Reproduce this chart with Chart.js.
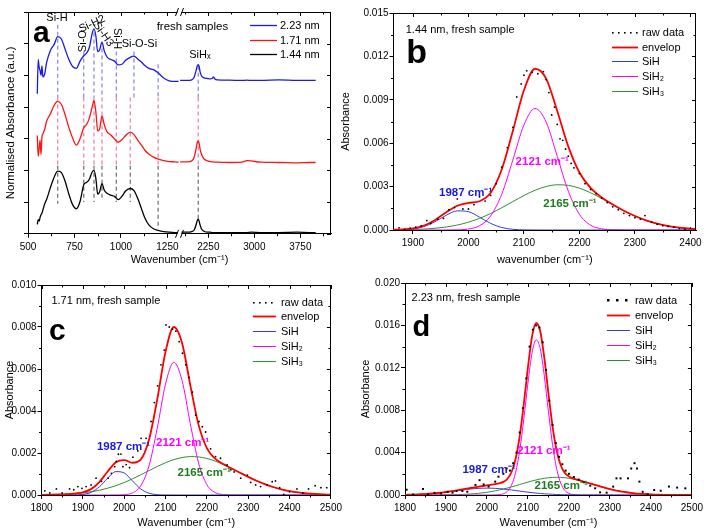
<!DOCTYPE html>
<html lang="en">
<head>
<meta charset="utf-8">
<title>FTIR SiHx</title>
<script src="https://cdn.jsdelivr.net/npm/chart.js@4.4.1/dist/chart.umd.min.js"></script>
<style>
	html, body { margin: 0; padding: 0; background: #fff; }
	#figura { position: relative; width: 706px; height: 531px; overflow: hidden; }
	#figura canvas { position: absolute; }
</style>
</head>
<body>
<div id="figura">
	<canvas id="graficoA" width="345" height="268" style="left:0;top:0"></canvas>
	<canvas id="graficoB" width="374" height="268" style="left:332px;top:0"></canvas>
	<canvas id="graficoC" width="345" height="263" style="left:0;top:268px"></canvas>
	<canvas id="graficoD" width="361" height="263" style="left:345px;top:268px"></canvas>
</div>
<script>
// ---- painel a: espectros normalizados (eixo quebrado) ----
var aEsqX = [550, 555, 560, 565, 570, 575, 580, 590, 600, 620, 640, 660, 680, 700, 720, 740, 760, 780, 800, 815, 830, 845, 855, 865, 875, 885, 898, 910, 925, 945, 965, 985, 1005, 1025, 1050, 1070, 1090, 1110, 1130, 1150, 1175, 1200, 1230, 1260, 1290, 1310];
var aEsq144 = [0.30, 0.45, 0.40, 0.52, 0.60, 0.65, 0.75, 0.95, 1.08, 1.45, 1.78, 1.98, 1.93, 1.65, 1.25, 0.92, 0.79, 1.02, 1.55, 1.62, 1.72, 1.95, 2.00, 1.75, 1.25, 1.32, 1.58, 1.38, 1.28, 1.22, 1.18, 1.08, 1.18, 1.35, 1.43, 1.36, 1.12, 0.80, 0.48, 0.28, 0.16, 0.11, 0.07, 0.05, 0.04, 0.03];
var aEsq171 = [3.10, 2.45, 2.70, 2.95, 2.50, 3.05, 3.15, 3.30, 3.55, 3.78, 4.05, 4.18, 4.08, 3.75, 3.35, 3.02, 2.80, 3.00, 3.35, 3.45, 3.65, 4.00, 4.20, 3.85, 3.25, 3.30, 3.72, 3.45, 3.22, 3.12, 3.00, 2.89, 2.97, 3.10, 3.21, 3.13, 2.96, 2.80, 2.63, 2.52, 2.42, 2.36, 2.31, 2.28, 2.27, 2.26];
var aEsq223 = [4.42, 5.50, 5.25, 5.15, 5.00, 5.30, 4.95, 5.05, 5.40, 5.78, 5.97, 6.22, 6.14, 5.82, 5.50, 5.28, 5.22, 5.45, 5.62, 5.70, 5.88, 6.32, 6.47, 6.25, 5.75, 5.80, 6.05, 5.78, 5.58, 5.50, 5.45, 5.33, 5.35, 5.48, 5.57, 5.61, 5.52, 5.42, 5.30, 5.22, 5.18, 5.08, 4.92, 4.83, 4.81, 4.81];
var aDirX = [1790, 1900, 1980, 2020, 2050, 2070, 2085, 2100, 2115, 2140, 2180, 2240, 2280, 2310, 2335, 2360, 2400, 2600, 2800, 2880, 2950, 3100, 3400, 3700, 3900, 4000];
var aDir144 = [0.05, 0.05, 0.07, 0.12, 0.28, 0.42, 0.46, 0.40, 0.28, 0.15, 0.08, 0.05, 0.05, 0.04, 0.04, 0.04, 0.04, 0.04, 0.04, 0.04, 0.05, 0.04, 0.04, 0.05, 0.04, 0.04];
var aDir171 = [2.27, 2.27, 2.30, 2.42, 2.68, 2.88, 2.93, 2.85, 2.68, 2.50, 2.36, 2.30, 2.28, 2.27, 2.27, 2.26, 2.26, 2.25, 2.26, 2.31, 2.30, 2.26, 2.25, 2.24, 2.25, 2.25];
var aDir223 = [4.84, 4.84, 4.86, 4.95, 5.15, 5.30, 5.34, 5.28, 5.12, 4.98, 4.92, 4.90, 4.89, 4.90, 4.95, 4.88, 4.86, 4.85, 4.84, 4.85, 4.84, 4.84, 4.86, 4.84, 4.84, 4.84];
var aTicksEsq = [500, 750, 1000, 1250];
var aTicksDir = [2250, 3000, 3750];
var aTicksY = [0, 1, 2, 3, 4, 5, 6, 7];
// linhas tracejadas das bandas
var picosAzul = [660, 800, 855, 898, 975, 1070, 1200];
var picosVermelhoPreto = [660, 800, 855, 898, 975, 1050, 1200];
var topoPicos = [6.6, 5.75, 6.35, 5.85, 5.75, 5.75, 5.35];
var basePicos = [0.95, 1.0, 1.0, 1.05, 1.0, 1.0, 0.15];
var picoSiHx = [2085];
var topoSiHx = [5.3];
var baseSiHx = [0.38];
var limiteAzul = 4.3;
var limiteVermelho = 2.15;

// ---- painel b: 1.44 nm ----
var bX = [1860, 1880, 1900, 1920, 1940, 1960, 1980, 2000, 2020, 2040, 2060, 2080, 2100, 2120, 2140, 2160, 2180, 2200, 2220, 2240, 2260, 2280, 2300, 2320, 2340, 2360, 2380, 2400, 2420];
var bEnvelope = [0.00001, 0.000033, 0.000107, 0.000304, 0.000695, 0.001229, 0.001679, 0.001873, 0.001986, 0.002571, 0.004181, 0.006845, 0.009659, 0.011148, 0.010466, 0.00822, 0.00576, 0.003972, 0.00291, 0.002257, 0.001763, 0.001335, 0.000965, 0.000664, 0.000433, 0.000269, 0.000158, 0.000089, 0.000047];
var bSiH = [0.000003, 0.000016, 0.000073, 0.000239, 0.000576, 0.001019, 0.001324, 0.001265, 0.000887, 0.000457, 0.000173, 0.000048, 0.00001, 0.000001, 0, 0, 0, 0, 0, 0, 0, 0, 0, 0, 0, 0, 0, 0, 0];
var bSiH2 = [0, 0, 0, 0, 0, 0.000002, 0.000012, 0.000068, 0.000294, 0.000972, 0.002472, 0.004834, 0.007266, 0.0084, 0.00746, 0.005095, 0.002675, 0.00108, 0.000335, 0.00008, 0.000015, 0.000002, 0, 0, 0, 0, 0, 0, 0];
var bSiH3 = [0.000008, 0.000017, 0.000034, 0.000065, 0.000119, 0.000208, 0.000343, 0.00054, 0.000805, 0.001142, 0.001536, 0.001963, 0.002383, 0.002747, 0.003006, 0.003125, 0.003085, 0.002892, 0.002575, 0.002177, 0.001748, 0.001333, 0.000965, 0.000664, 0.000433, 0.000269, 0.000158, 0.000089, 0.000047];
var bBrutoX = [1875, 1885, 1895, 1905, 1915, 1925, 1932, 1945, 1955, 1965, 1975, 1980, 1990, 2000, 2010, 2020, 2030, 2040, 2050, 2060, 2070, 2080, 2087, 2095, 2100, 2105, 2115, 2125, 2135, 2140, 2145, 2150, 2155, 2160, 2165, 2170, 2175, 2180, 2185, 2190, 2200, 2210, 2220, 2230, 2240, 2250, 2260, 2270, 2280, 2290, 2300, 2310, 2318, 2330, 2340, 2350, 2360, 2370, 2380, 2390, 2400, 2410, 2415];
var bBrutoY = [0.00015, 0.00005, 0.00012, 0.0002, 0.00028, 0.00065, 0.00045, 0.00075, 0.0008, 0.0014, 0.00155, 0.00215, 0.00145, 0.00145, 0.00175, 0.0023, 0.002, 0.0024, 0.0032, 0.00435, 0.0057, 0.0071, 0.0092, 0.0101, 0.0107, 0.011, 0.0109, 0.0108, 0.01095, 0.0104, 0.0095, 0.00795, 0.0085, 0.0073, 0.0063, 0.0062, 0.0056, 0.0051, 0.0046, 0.0043, 0.0039, 0.0032, 0.0028, 0.0025, 0.0022, 0.0019, 0.0016, 0.0014, 0.00115, 0.001, 0.00085, 0.00075, 0.001, 0.00055, 0.0004, 0.0003, 0.00025, 0.0002, 0.0001, 0.00005, 0.00012, 0.0002, 0.0001];
var bTicksX = [1900, 2000, 2100, 2200, 2300, 2400];
var bTicksY = [0, 0.003, 0.006, 0.009, 0.012, 0.015];

// ---- painel c: 1.71 nm ----
var cX = [1800, 1820, 1840, 1860, 1880, 1900, 1920, 1940, 1960, 1980, 2000, 2020, 2040, 2060, 2080, 2100, 2120, 2140, 2160, 2180, 2200, 2220, 2240, 2260, 2280, 2300, 2320, 2340, 2360, 2380, 2400, 2420, 2440, 2460, 2480, 2500];
var cEnvelope = [0.0000074, 0.0000134, 0.0000233, 0.0000396, 0.0000682, 0.0001288, 0.0002805, 0.0006135, 0.0011209, 0.0015598, 0.00166, 0.001536, 0.0016825, 0.0026289, 0.0045564, 0.006818, 0.008, 0.007237, 0.005226, 0.003339, 0.0022344, 0.0017307, 0.00147, 0.0012627, 0.0010598, 0.0008618, 0.0006782, 0.0005163, 0.0003803, 0.000271, 0.0001869, 0.0001246, 0.0000804, 0.0000502, 0.0000303, 0.0000178];
var cSiH = [0, 0, 0, 0.0000004, 0.0000043, 0.0000283, 0.0001273, 0.0003876, 0.0007986, 0.001113, 0.00105, 0.00067, 0.000289, 0.0000845, 0.0000167, 0.0000022, 0.0000002, 0, 0, 0, 0, 0, 0, 0, 0, 0, 0, 0, 0, 0, 0, 0, 0, 0, 0, 0];
var cSiH2 = [0, 0, 0, 0, 0, 0, 0, 0, 0, 0.0000019, 0.000016, 0.0000983, 0.000434, 0.001384, 0.003182, 0.005279, 0.006317, 0.005454, 0.003397, 0.001526, 0.0004948, 0.0001157, 0.0000195, 0.0000024, 0.0000002, 0, 0, 0, 0, 0, 0, 0, 0, 0, 0, 0];
var cSiH3 = [0.0000074, 0.0000134, 0.0000233, 0.0000392, 0.0000639, 0.0001005, 0.0001532, 0.0002259, 0.0003223, 0.0004449, 0.000594, 0.0007677, 0.0009595, 0.0011604, 0.0013577, 0.0015368, 0.001683, 0.001783, 0.001829, 0.001813, 0.0017396, 0.001615, 0.0014505, 0.0012603, 0.0010596, 0.0008618, 0.0006782, 0.0005163, 0.0003803, 0.000271, 0.0001869, 0.0001246, 0.0000804, 0.0000502, 0.0000303, 0.0000178];
var cBrutoX = [1808, 1820, 1836, 1850, 1868, 1878, 1888, 1898, 1908, 1920, 1932, 1945, 1961, 1969, 1977, 1981, 1986, 1992, 1997, 2005, 2013, 2021, 2033, 2041, 2053, 2065, 2073, 2081, 2089, 2097, 2101, 2109, 2117, 2125, 2133, 2141, 2149, 2157, 2165, 2173, 2181, 2189, 2197, 2209, 2221, 2233, 2249, 2258, 2266, 2282, 2298, 2306, 2318, 2330, 2346, 2358, 2366, 2376, 2386, 2400, 2418, 2432, 2446, 2462, 2476, 2490];
var cBrutoY = [0.0002, 0.0001, 0.00029, 0.0001, 0.00029, 0.00025, 0.0004, 0.00032, 0.0004, 0.00048, 0.0008, 0.00065, 0.0008, 0.00103, 0.00135, 0.0016, 0.00194, 0.00195, 0.00135, 0.00145, 0.0013, 0.0018, 0.0021, 0.0027, 0.0027, 0.0035, 0.0044, 0.0052, 0.0062, 0.0069, 0.0081, 0.008, 0.0079, 0.0078, 0.0073, 0.00675, 0.0062, 0.0056, 0.0049, 0.0038, 0.0035, 0.00325, 0.003, 0.0022, 0.00183, 0.00175, 0.00143, 0.0012, 0.0011, 0.0008, 0.00095, 0.0006, 0.00048, 0.0004, 0.00048, 0.00063, 0.00067, 0.00035, 0.00003, 0.00015, 0.00029, 0.0001, 0.00029, 0.00044, 0.00035, 0.00035];
var cTicksX = [1800, 1900, 2000, 2100, 2200, 2300, 2400, 2500];
var cTicksY = [0, 0.002, 0.004, 0.006, 0.008, 0.010];

// ---- painel d: 2.23 nm ----
var dX = [1800, 1810, 1820, 1830, 1840, 1850, 1860, 1870, 1880, 1890, 1900, 1910, 1920, 1930, 1940, 1950, 1960, 1970, 1980, 1990, 2000, 2010, 2020, 2030, 2040, 2050, 2060, 2070, 2080, 2090, 2100, 2110, 2120, 2130, 2140, 2150, 2160, 2170, 2180, 2190, 2200, 2210, 2220, 2230, 2240, 2250, 2260, 2270, 2280, 2290, 2300, 2310, 2320, 2330, 2340, 2350, 2360, 2370, 2380, 2390, 2400, 2410, 2420, 2430, 2440, 2450, 2460, 2470, 2480, 2490, 2500];
var dEnvelope = [0.000019, 0.000026, 0.000037, 0.000051, 0.000069, 0.00009, 0.000117, 0.00015, 0.000188, 0.000233, 0.000282, 0.000337, 0.000398, 0.000461, 0.000527, 0.000593, 0.000661, 0.000726, 0.000789, 0.00085, 0.000908, 0.000964, 0.001026, 0.001103, 0.001239, 0.001531, 0.002172, 0.003435, 0.005585, 0.008617, 0.012057, 0.014942, 0.016241, 0.01545, 0.012908, 0.009581, 0.006483, 0.0042, 0.002811, 0.002086, 0.00174, 0.001561, 0.00144, 0.001332, 0.001221, 0.001108, 0.000992, 0.000877, 0.000765, 0.000659, 0.000561, 0.000471, 0.000391, 0.00032, 0.000258, 0.000206, 0.000162, 0.000126, 0.000097, 0.000073, 0.000055, 0.00004, 0.00003, 0.000021, 0.000015, 0.000011, 0.000007, 0.000005, 0.000003, 0.000002, 0.000002];
var dSiH = [0.000019, 0.000026, 0.000036, 0.00005, 0.000067, 0.000088, 0.000114, 0.000145, 0.000181, 0.000222, 0.000267, 0.000316, 0.000368, 0.00042, 0.000472, 0.00052, 0.000564, 0.0006, 0.000627, 0.000644, 0.00065, 0.000644, 0.000627, 0.0006, 0.000564, 0.00052, 0.000472, 0.00042, 0.000368, 0.000316, 0.000267, 0.000222, 0.000181, 0.000145, 0.000114, 0.000088, 0.000067, 0.00005, 0.000036, 0.000026, 0.000019, 0.000013, 0.000009, 0.000006, 0.000004, 0.000003, 0.000002, 0.000001, 0, 0, 0, 0, 0, 0, 0, 0, 0, 0, 0, 0, 0, 0, 0, 0, 0, 0, 0, 0, 0, 0, 0];
var dSiH2 = [0, 0, 0, 0, 0, 0, 0, 0, 0, 0, 0, 0, 0, 0, 0, 0, 0, 0, 0, 0, 0, 0, 0.000008, 0.000032, 0.000114, 0.000352, 0.000935, 0.002139, 0.004227, 0.007196, 0.010573, 0.013396, 0.014639, 0.013799, 0.011218, 0.007866, 0.004757, 0.00248, 0.001116, 0.000433, 0.000145, 0.000042, 0.00001, 0.000002, 0, 0, 0, 0, 0, 0, 0, 0, 0, 0, 0, 0, 0, 0, 0, 0, 0, 0, 0, 0, 0, 0, 0, 0, 0, 0, 0];
var dSiH3 = [0, 0.0000004, 0.0000006, 0.000001, 0.0000015, 0.0000023, 0.0000034, 0.000005, 0.0000073, 0.0000106, 0.0000151, 0.0000212, 0.0000295, 0.0000405, 0.0000549, 0.0000734, 0.0000969, 0.000126, 0.000162, 0.000206, 0.000258, 0.00032, 0.000391, 0.000471, 0.000561, 0.000659, 0.000765, 0.000876, 0.00099, 0.001105, 0.001217, 0.001324, 0.001421, 0.001506, 0.001576, 0.001627, 0.001659, 0.00167, 0.001659, 0.001627, 0.001576, 0.001506, 0.001421, 0.001324, 0.001217, 0.001105, 0.00099, 0.000876, 0.000765, 0.000659, 0.000561, 0.000471, 0.000391, 0.00032, 0.000258, 0.000206, 0.000162, 0.000126, 0.000097, 0.000073, 0.000055, 0.00004, 0.00003, 0.000021, 0.000015, 0.000011, 0.000007, 0.000005, 0.000003, 0.000002, 0.000002];
var dBrutoX = [1804, 1820, 1844, 1856, 1872, 1888, 1904, 1916, 1926, 1940, 1952, 1972, 1982, 1992, 2004, 2020, 2028, 2040, 2048, 2056, 2064, 2072, 2080, 2088, 2096, 2104, 2112, 2120, 2128, 2136, 2144, 2152, 2160, 2168, 2176, 2184, 2192, 2200, 2212, 2224, 2236, 2252, 2264, 2276, 2292, 2308, 2316, 2326, 2344, 2352, 2360, 2366, 2372, 2380, 2392, 2408, 2424, 2444, 2464, 2484];
var dBrutoY = [0.0005, 0.00005, 0.00057, 0.00005, 0.0002, 0.00016, 0.0003, 0.00022, 0.00038, 0.00038, 0.00031, 0.00095, 0.0014, 0.001, 0.0008, 0.00126, 0.00173, 0.002, 0.0025, 0.0023, 0.003, 0.004, 0.0059, 0.0082, 0.011, 0.014, 0.0156, 0.016, 0.0158, 0.0144, 0.0118, 0.0089, 0.0066, 0.0049, 0.0036, 0.0029, 0.0023, 0.002, 0.0017, 0.00145, 0.0012, 0.00088, 0.00063, 0.00025, 0.00022, 0.00079, 0.00157, 0.00157, 0.00157, 0.0025, 0.003, 0.0025, 0.00126, 0.0003, 0.00006, 0.00047, 0.0004, 0.0008, 0.0007, 0.00063];
var dTicksX = [1800, 1900, 2000, 2100, 2200, 2300, 2400, 2500];
var dTicksY = [0, 0.004, 0.008, 0.012, 0.016, 0.020];

var FONTE = '"Liberation Sans", Arial, Helvetica, sans-serif';
Chart.defaults.font.family = FONTE;
Chart.defaults.font.size = 10;
Chart.defaults.color = '#000';

var COR_ENV = '#ff0000', COR_SIH = '#3c3cd2', COR_SIH2 = '#ff00ff', COR_SIH3 = '#2f8f2f';

function pontos(xs, ys) {
	return xs.map(function(x, i) { return {x: x, y: ys[i]}; });
}

function curva(rotulo, xs, ys, cor, largura, eixo) {
	return {
		label: rotulo,
		data: pontos(xs, ys),
		borderColor: cor,
		backgroundColor: cor,
		borderWidth: largura,
		pointRadius: 0,
		cubicInterpolationMode: 'monotone',
		fill: false,
		xAxisID: eixo || 'x'
	};
}

function brutos(xs, ys, estilo, raio) {
	return {
		label: 'raw data',
		data: pontos(xs, ys),
		showLine: false,
		pointStyle: estilo,
		pointRadius: raio,
		pointBorderWidth: 0,
		pointBackgroundColor: '#000',
		borderColor: '#000',
		xAxisID: 'x'
	};
}

function tracejado(posicoes, topos, bases, cor, eixo) {
	var dados = [];
	posicoes.forEach(function(x, i) {
		dados.push({x: x, y: topos[i]}, {x: x, y: bases[i]}, {x: x, y: null});
	});
	return {
		data: dados,
		borderColor: cor,
		borderWidth: 1.1,
		borderDash: [4, 3],
		pointRadius: 0,
		tension: 0,
		spanGaps: false,
		xAxisID: eixo
	};
}

function constante(lista, valor) {
	return lista.map(function() { return valor; });
}

function eixoX(cfg) {
	return {
		type: 'linear',
		position: 'bottom',
		min: cfg.min,
		max: cfg.max,
		stack: cfg.pilha,
		stackWeight: 1,
		afterBuildTicks: function(escala) {
			escala.ticks = cfg.ticks.map(function(v) { return {value: v}; });
		},
		afterFit: function(escala) { escala.height = cfg.altura; },
		ticks: { font: {size: 10}, color: '#000', padding: 3, maxRotation: 0, autoSkip: false,
			callback: function(v) { return String(v); } },
		grid: { drawOnChartArea: false, drawTicks: true, tickLength: 4, color: '#000', lineWidth: 1 },
		border: { display: true, color: '#000', width: 1 },
		title: cfg.titulo ? { display: true, text: cfg.titulo, color: '#000', font: {size: 11}, padding: {top: 0, bottom: 1} } : { display: false }
	};
}

function eixoY(cfg) {
	return {
		type: 'linear',
		position: 'left',
		min: cfg.min,
		max: cfg.max,
		afterBuildTicks: function(escala) {
			escala.ticks = cfg.ticks.map(function(v) { return {value: v}; });
		},
		afterFit: function(escala) { escala.width = cfg.largura; },
		ticks: { display: cfg.rotulos !== false, font: {size: 10}, color: '#000', padding: 1,
			callback: function(v) { return v.toFixed(cfg.casas || 0); } },
		grid: { drawOnChartArea: false, drawTicks: true, tickLength: 4, color: '#000', lineWidth: 1 },
		border: { display: true, color: '#000', width: 1 },
		title: { display: true, text: cfg.titulo, color: '#000', font: {size: cfg.tamTitulo || 11}, padding: {top: cfg.padTitulo || 0, bottom: 0} }
	};
}

function marcas(escala, semMenor) {
	var vals = escala.ticks.map(function(t) { return t.value; });
	var lista = [];
	vals.forEach(function(v, i) {
		lista.push({valor: v, maior: true});
		if (!semMenor && i < vals.length - 1) lista.push({valor: (v + vals[i + 1]) / 2, maior: false});
	});
	if (!semMenor && vals.length > 1) {
		var passo = vals[1] - vals[0];
		if (vals[0] - passo / 2 >= escala.min) lista.push({valor: vals[0] - passo / 2, maior: false});
		if (vals[vals.length - 1] + passo / 2 <= escala.max) lista.push({valor: vals[vals.length - 1] + passo / 2, maior: false});
	}
	return lista;
}

// moldura de cima/direita com marcas internas e marcas secundarias
var molduraPlugin = {
	id: 'moldura',
	afterDraw: function(chart, args, opcoes) {
		var ctx = chart.ctx;
		var area = chart.chartArea;
		var idsX = opcoes.eixosX || ['x'];
		var escalaY = chart.scales.y;
		var topo = Math.round(area.top) + 0.5;
		var dir = Math.round(area.right) - 0.5;
		ctx.save();
		ctx.strokeStyle = '#000';
		ctx.lineWidth = 1;
		ctx.beginPath();
		ctx.moveTo(area.left, topo);
		ctx.lineTo(area.right, topo);
		ctx.moveTo(dir, area.top);
		ctx.lineTo(dir, area.bottom);
		idsX.forEach(function(id) {
			var escala = chart.scales[id];
			marcas(escala).forEach(function(m) {
				var px = Math.round(escala.getPixelForValue(m.valor)) + 0.5;
				var tam = m.maior ? 4 : 2.5;
				ctx.moveTo(px, area.top);
				ctx.lineTo(px, area.top + tam);
				if (!m.maior) {
					ctx.moveTo(px, area.bottom);
					ctx.lineTo(px, area.bottom + tam);
				}
			});
		});
		marcas(escalaY, opcoes.semMenorY).forEach(function(m) {
			var py = Math.round(escalaY.getPixelForValue(m.valor)) + 0.5;
			var tam = m.maior ? 4 : 2.5;
			ctx.moveTo(area.right, py);
			ctx.lineTo(area.right - tam, py);
			if (!m.maior) {
				ctx.moveTo(area.left, py);
				ctx.lineTo(area.left - tam, py);
			}
		});
		ctx.stroke();
		if (opcoes.quebra) {
			var xq = chart.scales[idsX[0]].right;
			[area.top, area.bottom].forEach(function(y) {
				ctx.fillStyle = '#fff';
				ctx.fillRect(xq - 2, y - 3, 4, 6);
				ctx.beginPath();
				ctx.moveTo(xq - 4, y + 4);
				ctx.lineTo(xq - 1, y - 4);
				ctx.moveTo(xq + 1, y + 4);
				ctx.lineTo(xq + 4, y - 4);
				ctx.stroke();
			});
		}
		ctx.restore();
	}
};

// legenda desenhada dentro da area do grafico
var legendaPlugin = {
	id: 'legenda',
	afterDraw: function(chart, args, opcoes) {
		if (!opcoes.itens) return;
		var ctx = chart.ctx;
		var area = chart.chartArea;
		ctx.save();
		ctx.font = '11px ' + FONTE;
		ctx.textBaseline = 'middle';
		ctx.textAlign = 'left';
		opcoes.itens.forEach(function(indice, i) {
			var ds = chart.data.datasets[indice];
			var y = Math.round(area.top + opcoes.topo + i * opcoes.passo) + 0.5;
			var x1 = area.right - opcoes.inicio;
			var x2 = area.right - opcoes.fim;
			if (ds.showLine === false) {
				ctx.fillStyle = '#000';
				var t = opcoes.ponto || 1.6;
				for (var x = x1 + 1; x <= x2; x += opcoes.espaco || 6) {
					ctx.fillRect(Math.round(x - t / 2), Math.round(y - t / 2), t, t);
				}
			} else {
				ctx.strokeStyle = ds.borderColor;
				ctx.lineWidth = ds.borderWidth;
				ctx.beginPath();
				ctx.moveTo(x1, y);
				ctx.lineTo(x2, y);
				ctx.stroke();
			}
			ctx.fillStyle = '#000';
			ctx.fillText(ds.label, area.right - opcoes.texto, y);
		});
		ctx.restore();
	}
};

// rotulos e anotacoes em coordenadas de dados
var textosPlugin = {
	id: 'textos',
	afterDraw: function(chart, args, opcoes) {
		var ctx = chart.ctx;
		(opcoes.itens || []).forEach(function(t) {
			var px = chart.scales[t.eixo || 'x'].getPixelForValue(t.x);
			var py = chart.scales.y.getPixelForValue(t.y);
			ctx.save();
			ctx.translate(px, py);
			if (t.rot) ctx.rotate(t.rot * Math.PI / 180);
			ctx.font = (t.negrito ? 'bold ' : '') + (t.tam || 11) + 'px ' + FONTE;
			ctx.fillStyle = t.cor || '#000';
			ctx.textAlign = t.alinh || 'left';
			ctx.textBaseline = t.base || 'alphabetic';
			ctx.fillText(t.texto, 0, 0);
			ctx.restore();
		});
	}
};

var plugins = [molduraPlugin, legendaPlugin, textosPlugin];

function opcoesBase() {
	return {
		responsive: false,
		animation: false,
		events: [],
		plugins: { legend: { display: false }, tooltip: { enabled: false } }
	};
}

// ---------- a ----------
var opA = opcoesBase();
opA.layout = { padding: { top: 12, right: 14, left: 0, bottom: 0 } };
opA.scales = {
	xl: eixoX({min: 500, max: 1315, ticks: aTicksEsq, altura: 20, pilha: 'quebra'}),
	xr: eixoX({min: 1780, max: 4250, ticks: aTicksDir, altura: 20, pilha: 'quebra'}),
	y: eixoY({min: 0, max: 7, ticks: aTicksY, largura: 28, rotulos: false, titulo: 'Normalised Absorbance (a.u.)', padTitulo: 4, tamTitulo: 11.5})
};
opA.plugins.title = { display: true, position: 'bottom', fullSize: false, text: 'Wavenumber (cm⁻¹)', color: '#000',
	font: {size: 11, weight: 'normal'}, padding: {top: 0, bottom: 1} };
opA.plugins.moldura = { eixosX: ['xl', 'xr'], quebra: true, semMenorY: true };
opA.plugins.legenda = { itens: [0, 2, 4], topo: 13, passo: 14.5, inicio: 81, fim: 54, texto: 51 };
opA.plugins.textos = { itens: [
	{texto: 'a', x: 527, y: 6.04, eixo: 'xl', tam: 30, negrito: true},
	{texto: 'Si-H', x: 656, y: 6.71, eixo: 'xl', alinh: 'center'},
	{texto: 'Si-O', x: 797, y: 6.08, eixo: 'xl', alinh: 'center', base: 'middle', rot: -90},
	{texto: 'Si-H2', x: 845, y: 6.62, eixo: 'xl', alinh: 'center', base: 'middle', rot: -25},
	{texto: 'Si-H3', x: 905, y: 6.3, eixo: 'xl', alinh: 'center', base: 'middle', rot: 55},
	{texto: 'Si-H', x: 977, y: 6.16, eixo: 'xl', alinh: 'center', base: 'middle', rot: 90},
	{texto: 'Si-O-Si', x: 1099, y: 6.0, eixo: 'xl', alinh: 'center', base: 'middle'},
	{texto: 'fresh samples', x: 1192, y: 6.42, eixo: 'xl', tam: 11.5},
	{texto: 'SiHₓ', x: 2113, y: 5.55, eixo: 'xr', alinh: 'center'}
] };

var COR_A223 = '#1a1ae0', COR_A171 = '#ff1414', COR_A144 = '#000000';
new Chart(document.getElementById('graficoA'), {
	type: 'line',
	data: { datasets: [
		curva('2.23 nm', aEsqX, aEsq223, COR_A223, 1.3, 'xl'),
		curva('2.23 nm', aDirX, aDir223, COR_A223, 1.3, 'xr'),
		curva('1.71 nm', aEsqX, aEsq171, COR_A171, 1.3, 'xl'),
		curva('1.71 nm', aDirX, aDir171, COR_A171, 1.3, 'xr'),
		curva('1.44 nm', aEsqX, aEsq144, COR_A144, 1.3, 'xl'),
		curva('1.44 nm', aDirX, aDir144, COR_A144, 1.3, 'xr'),
		tracejado(picosAzul, topoPicos, constante(picosAzul, limiteAzul), 'rgba(70,70,255,0.75)', 'xl'),
		tracejado(picosVermelhoPreto, constante(picosVermelhoPreto, limiteAzul), constante(picosVermelhoPreto, limiteVermelho), 'rgba(240,60,120,0.75)', 'xl'),
		tracejado(picosVermelhoPreto, constante(picosVermelhoPreto, limiteVermelho), basePicos, 'rgba(40,40,40,0.75)', 'xl'),
		tracejado(picoSiHx, topoSiHx, constante(picoSiHx, limiteAzul), 'rgba(70,70,255,0.75)', 'xr'),
		tracejado(picoSiHx, constante(picoSiHx, limiteAzul), constante(picoSiHx, limiteVermelho), 'rgba(240,60,120,0.75)', 'xr'),
		tracejado(picoSiHx, constante(picoSiHx, limiteVermelho), baseSiHx, 'rgba(40,40,40,0.75)', 'xr')
	] },
	options: opA,
	plugins: plugins
});

// ---------- b ----------
var opB = opcoesBase();
opB.layout = { padding: { top: 13, right: 10, left: 7, bottom: 0 } };
opB.scales = {
	x: eixoX({min: 1865, max: 2410, ticks: bTicksX, altura: 38, titulo: 'wavenumber (cm⁻¹)'}),
	y: eixoY({min: 0, max: 0.015, ticks: bTicksY, casas: 3, largura: 54.5, titulo: 'Absorbance'})
};
opB.plugins.moldura = {};
opB.plugins.legenda = { itens: [0, 1, 2, 3, 4], topo: 19, passo: 14.7, inicio: 84, fim: 58, texto: 54 };
opB.plugins.textos = { itens: [
	{texto: '1.44 nm, fresh sample', x: 1887, y: 0.01359},
	{texto: 'b', x: 1888, y: 0.01152, tam: 34, negrito: true},
	{texto: '1987 cm⁻¹', x: 1947, y: 0.00237, negrito: true, tam: 11.5, cor: '#1818d8'},
	{texto: '2121 cm⁻¹', x: 2085, y: 0.0045, negrito: true, tam: 11.5, cor: '#ff00ff'},
	{texto: '2165 cm⁻¹', x: 2135, y: 0.00159, negrito: true, tam: 11.5, cor: '#1e7b1e'}
] };
new Chart(document.getElementById('graficoB'), {
	type: 'line',
	data: { datasets: [
		brutos(bBrutoX, bBrutoY, 'circle', 0.9),
		curva('envelop', bX, bEnvelope, COR_ENV, 1.8),
		curva('SiH', bX, bSiH, COR_SIH, 1),
		curva('SiH₂', bX, bSiH2, COR_SIH2, 1),
		curva('SiH₃', bX, bSiH3, COR_SIH3, 1)
	] },
	options: opB,
	plugins: plugins
});

// ---------- c ----------
var opC = opcoesBase();
opC.layout = { padding: { top: 17, right: 12, left: 0, bottom: 0 } };
opC.scales = {
	x: eixoX({min: 1800, max: 2500, ticks: cTicksX, altura: 36, titulo: 'Wavenumber (cm⁻¹)'}),
	y: eixoY({min: 0, max: 0.010, ticks: cTicksY, casas: 3, largura: 41.5, titulo: 'Absorbance', padTitulo: 3})
};
opC.plugins.moldura = {};
opC.plugins.legenda = { itens: [0, 1, 2, 3, 4], topo: 16.7, passo: 14.75, inicio: 78, fim: 55, texto: 50 };
opC.plugins.textos = { itens: [
	{texto: '1.71 nm, fresh sample', x: 1824, y: 0.00908},
	{texto: 'c', x: 1818, y: 0.00738, tam: 30, negrito: true},
	{texto: '1987 cm⁻¹', x: 1934, y: 0.00214, negrito: true, tam: 11.5, cor: '#1818d8'},
	{texto: '2121 cm⁻¹', x: 2077, y: 0.00235, negrito: true, tam: 11.5, cor: '#ff00ff'},
	{texto: '2165 cm⁻¹', x: 2129, y: 0.00092, negrito: true, tam: 11.5, cor: '#1e7b1e'}
] };
new Chart(document.getElementById('graficoC'), {
	type: 'line',
	data: { datasets: [
		brutos(cBrutoX, cBrutoY, 'circle', 0.9),
		curva('envelop', cX, cEnvelope, COR_ENV, 1.8),
		curva('SiH', cX, cSiH, COR_SIH, 1),
		curva('SiH₂', cX, cSiH2, COR_SIH2, 1),
		curva('SiH₃', cX, cSiH3, COR_SIH3, 1)
	] },
	options: opC,
	plugins: plugins
});

// ---------- d ----------
var opD = opcoesBase();
opD.layout = { padding: { top: 15, right: 9.5, left: 14, bottom: 0 } };
opD.scales = {
	x: eixoX({min: 1800, max: 2500, ticks: dTicksX, altura: 36, titulo: 'Wavenumber (cm⁻¹)'}),
	y: eixoY({min: 0, max: 0.020, ticks: dTicksY, casas: 3, largura: 46, titulo: 'Absorbance'})
};
opD.plugins.moldura = {};
opD.plugins.legenda = { itens: [0, 1, 2, 3, 4], topo: 16.7, passo: 15, inicio: 85, fim: 62, texto: 57, ponto: 2.5, espaco: 9 };
opD.plugins.textos = { itens: [
	{texto: '2.23 nm, fresh sample', x: 1816, y: 0.01827},
	{texto: 'd', x: 1818, y: 0.01496, tam: 29, negrito: true},
	{texto: '1987 cm⁻¹', x: 1940, y: 0.00205, negrito: true, tam: 11.5, cor: '#1818d8'},
	{texto: '2121 cm⁻¹', x: 2074, y: 0.00387, negrito: true, tam: 11.5, cor: '#ff00ff'},
	{texto: '2165 cm⁻¹', x: 2116, y: 0.00057, negrito: true, tam: 11.5, cor: '#1e7b1e'}
] };
new Chart(document.getElementById('graficoD'), {
	type: 'line',
	data: { datasets: [
		brutos(dBrutoX, dBrutoY, 'rect', 1.4),
		curva('envelop', dX, dEnvelope, COR_ENV, 1.8),
		curva('SiH', dX, dSiH, COR_SIH, 1),
		curva('SiH₂', dX, dSiH2, COR_SIH2, 1),
		curva('SiH₃', dX, dSiH3, COR_SIH3, 1)
	] },
	options: opD,
	plugins: plugins
});
</script>
</body>
</html>
